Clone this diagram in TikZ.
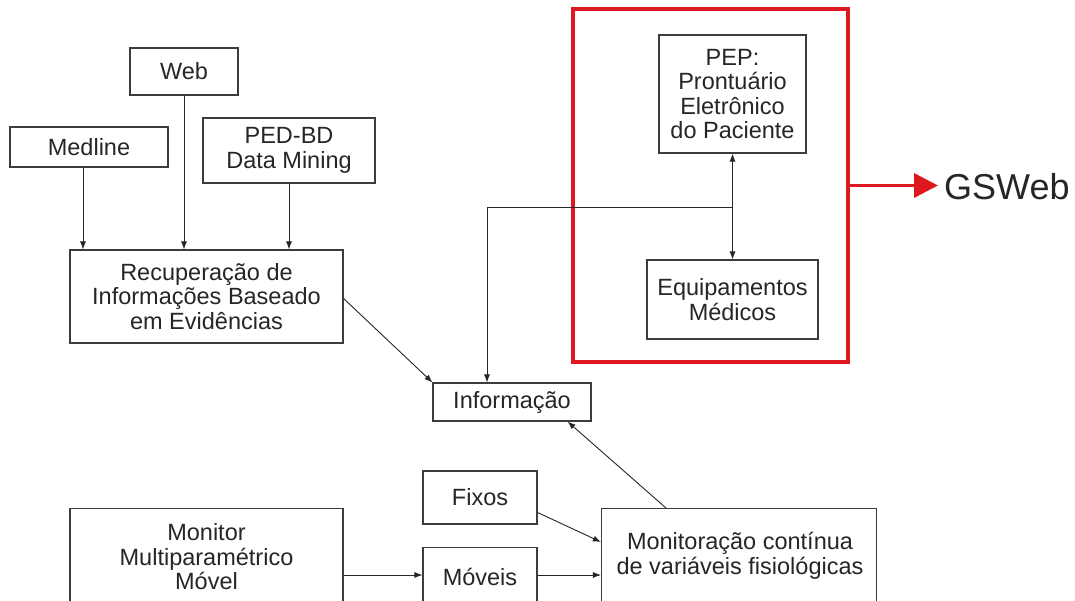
\documentclass[tikz,border=0pt]{standalone}
\usepackage{fontspec}
\setmainfont{Liberation Sans}
\usetikzlibrary{arrows.meta,calc}
\definecolor{boxline}{RGB}{60,60,60}
\definecolor{redbox}{RGB}{222,24,32}
\begin{document}
\begin{tikzpicture}[x=1pt,y=1pt,
  blk/.style={draw=boxline,line width=1.1pt,rectangle,align=center,inner sep=2pt,
    font=\fontsize{23.5}{24.5}\selectfont,text=black!85},
  txt/.style={align=center,font=\fontsize{23.5}{24.5}\selectfont,text=black!85},
  arr/.style={draw=black!85,line width=0.9pt,-{Latex[length=8pt,width=6pt]}},
  dblarr/.style={draw=black!85,line width=0.9pt,{Latex[length=8pt,width=6pt]}-{Latex[length=8pt,width=6pt]}}]
\useasboundingbox (0,0) rectangle (1075,-601);
\clip (0,0) rectangle (1075,-601);
\fill[white] (0,0) rectangle (1075,-601);

\node[blk,minimum width=108pt,minimum height=47pt] (web) at (184,-71.5) {Web};
\node[blk,minimum width=158pt,minimum height=40pt] (medline) at (89,-147) {Medline};
\node[blk,minimum width=172pt,minimum height=65pt] (ped) at (289,-150.5) {PED-BD\\Data Mining};
\node[blk,minimum width=273pt,minimum height=93pt] (rec) at (206.5,-296.5) {Recuperação de\\Informações Baseado\\em Evidências};
\node[blk,minimum width=158pt,minimum height=38pt] (info) at (512,-402) {Informação};
\node[blk,minimum width=114pt,minimum height=53pt] (fixos) at (480,-497.5) {Fixos};
\node[blk,minimum width=114pt,minimum height=57pt,anchor=north] (moveis) at (480,-547) {};
\node[txt] (movtxt) at (480,-577) {Móveis};
\node[blk,minimum width=273pt,minimum height=98pt,anchor=north] (monitor) at (206.5,-508) {};
\node[txt] (montxt) at (206.5,-557) {Monitor\\Multiparamétrico\\Móvel};
\node[blk,minimum width=275pt,minimum height=98pt,anchor=north] (monit) at (739,-508) {};
\node[txt] (monittxt) at (740,-556) {Monitoração contínua\\de variáveis fisiológicas};

\node[draw=redbox,line width=3.5pt,minimum width=275pt,minimum height=353pt] (red) at (710.5,-185.5) {};
\node[blk,minimum width=147pt,minimum height=118pt] (pep) at (732.5,-94) {PEP:\\Prontuário\\Eletrônico\\do Paciente};
\node[blk,minimum width=171pt,minimum height=79pt] (equip) at (732.5,-299.5) {Equipamentos\\Médicos};

\node[anchor=west,font=\fontsize{36}{40}\selectfont,text=black!85,inner sep=0pt] (gs) at (944,-187) {GSWeb};
\coordinate (gsend) at (938,-185.5);
\draw[draw=redbox,line width=3.5pt,-{Triangle[length=24pt,width=24pt]}] (red.east) -- (gsend);

% connectors
\draw[arr] ([xshift=-6pt]medline.south) -- ([xshift=-6pt]medline.south |- rec.north);
\draw[arr] (web.south) -- (web.south |- rec.north);
\draw[arr] (ped.south) -- (ped.south |- rec.north);
\draw[arr] ([yshift=-2pt]rec.east) -- (info.north west);
\draw[dblarr] (pep.south) -- (pep.south |- equip.north);
\coordinate (j) at ($(pep.south)+(0,-54)$);
\coordinate (k) at ([xshift=-25pt]info.north);
\draw[arr] (j) -- (k |- j) -- (k);
\draw[arr] ([xshift=-73pt]monit.north) -- ([xshift=-24pt]info.south east);
\draw[arr] ([yshift=-15pt]fixos.east) -- ([yshift=-34pt]monit.north west);
\coordinate (rowy) at (0,-575);
\draw[arr] (moveis.east |- rowy) -- (monit.west |- rowy);
\draw[arr] (monitor.east |- rowy) -- (moveis.west |- rowy);
\end{tikzpicture}
\end{document}
